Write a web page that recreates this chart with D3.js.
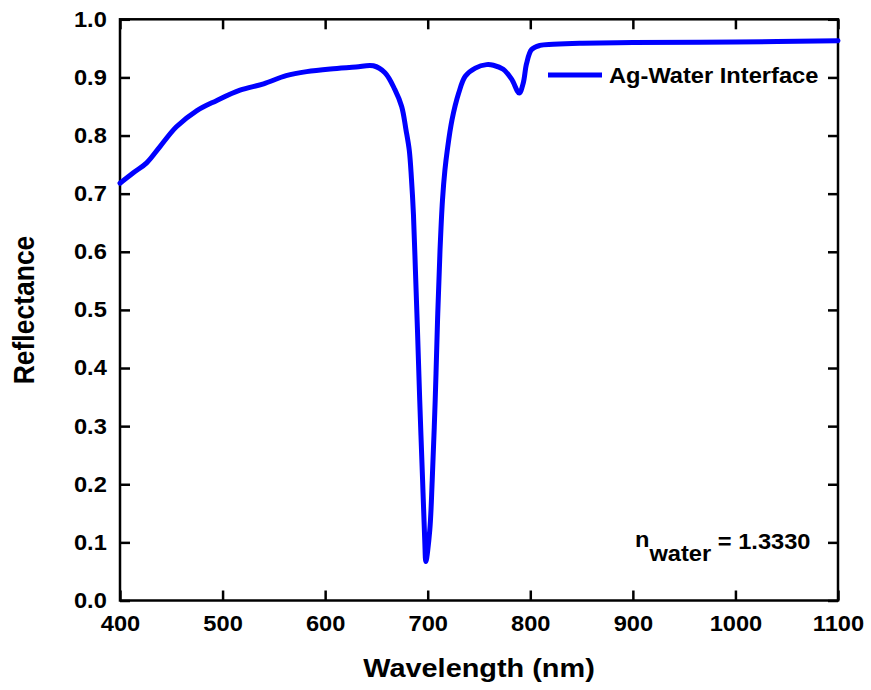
<!DOCTYPE html>
<html>
<head>
<meta charset="utf-8">
<script src="https://cdn.jsdelivr.net/npm/d3@7"></script>
<style>
  html, body { margin: 0; padding: 0; background: #fff; }
  svg { display: block; }
  text { font-family: "Liberation Sans", Arial, sans-serif; font-weight: bold; fill: #000; }
</style>
</head>
<body>
<svg id="chart" width="871" height="690"></svg>
<script>
// Reflectance spectrum of a silver / water interface
const wavelength = [400, 413, 426, 439, 455, 475, 494, 517, 540, 562, 582, 608, 630, 647,
  658.3, 668, 674.6, 678.8, 682.0, 684.1, 686.1, 688.0, 690.0, 692.2, 695.0, 697.1, 698.2,
  702.0, 704.4, 707.3, 709.6, 712.0, 714.4, 716.8, 719.1, 723.7, 730.2, 736.6, 746.4,
  757.4, 764, 773.6, 781.8, 789.2, 793.1, 796.4, 801.3, 809.4, 822.3, 848, 900, 1000, 1100];
const reflectance = [0.718, 0.736, 0.753, 0.781, 0.815, 0.843, 0.860, 0.878, 0.889, 0.903,
  0.910, 0.915, 0.918, 0.920, 0.908, 0.879, 0.850, 0.810, 0.775, 0.727, 0.664, 0.569,
  0.466, 0.345, 0.207, 0.104, 0.067, 0.121, 0.207, 0.345, 0.483, 0.603, 0.689, 0.741,
  0.775, 0.827, 0.873, 0.902, 0.916, 0.922, 0.921, 0.914, 0.897, 0.873, 0.890, 0.924,
  0.948, 0.955, 0.957, 0.959, 0.960, 0.961, 0.963];
const xTicks = [400, 500, 600, 700, 800, 900, 1000, 1100];
const yTicks = [0.0, 0.1, 0.2, 0.3, 0.4, 0.5, 0.6, 0.7, 0.8, 0.9, 1.0];
const seriesName = "Ag-Water Interface";

const svg = d3.select("#chart");
const plot = { left: 120, right: 838, top: 19.3, bottom: 600.5 };
const stretch = 1.1;   // glyphs are drawn slightly wide
const tickFont = 21.5;

const x = d3.scaleLinear().domain([400, 1100]).range([plot.left, plot.right]);
const y = d3.scaleLinear().domain([0, 1]).range([plot.bottom, plot.top]);

function styleAxis(g) {
  g.select(".domain").remove();
  g.selectAll(".tick line").attr("stroke", "#000").attr("stroke-width", 2.5);
}

// bottom axis with labels
const gB = svg.append("g").attr("transform", `translate(0,${plot.bottom})`)
  .call(d3.axisBottom(x).tickValues(xTicks).tickSize(-10).tickPadding(15).tickFormat(d3.format("d")));
styleAxis(gB);
gB.selectAll(".tick text").attr("font-size", tickFont).attr("font-family", null)
  .attr("transform", `scale(${stretch},1)`);

// top axis, ticks only
const gT = svg.append("g").attr("transform", `translate(0,${plot.top})`)
  .call(d3.axisTop(x).tickValues(xTicks).tickSize(-10).tickFormat(""));
styleAxis(gT);

// left axis with labels
const gL = svg.append("g").attr("transform", `translate(${plot.left},0)`)
  .call(d3.axisLeft(y).tickValues(yTicks).tickSize(-10).tickPadding(12).tickFormat(d3.format(".1f")));
styleAxis(gL);
gL.selectAll(".tick text").attr("font-size", tickFont).attr("font-family", null)
  .attr("transform", `scale(${stretch},1)`);

// right axis, ticks only
const gR = svg.append("g").attr("transform", `translate(${plot.right},0)`)
  .call(d3.axisRight(y).tickValues(yTicks).tickSize(-10).tickFormat(""));
styleAxis(gR);

// frame
svg.append("rect")
  .attr("x", plot.left).attr("y", plot.top)
  .attr("width", plot.right - plot.left).attr("height", plot.bottom - plot.top)
  .attr("fill", "none").attr("stroke", "#000").attr("stroke-width", 2.5);

// spectrum
const pts = wavelength.map((w, i) => [w, reflectance[i]]);
const line = d3.line().x(d => x(d[0])).y(d => y(d[1])).curve(d3.curveCatmullRom.alpha(0.5));
svg.append("path").datum(pts)
  .attr("d", line)
  .attr("fill", "none").attr("stroke", "#0000ff").attr("stroke-width", 5)
  .attr("stroke-linejoin", "round").attr("stroke-linecap", "round");

// legend
svg.append("line").attr("x1", 548).attr("x2", 602).attr("y1", 75).attr("y2", 75)
  .attr("stroke", "#0000ff").attr("stroke-width", 5);
svg.append("text").attr("transform", `translate(609,83) scale(${stretch},1)`)
  .attr("font-size", 21.5).text(seriesName);

// refractive index note
const note = svg.append("text").attr("transform", `translate(635,547) scale(${stretch},1)`)
  .attr("font-size", 21.5);
note.append("tspan").attr("x", 0).attr("y", 0).text("n");
note.append("tspan").attr("y", 14).text("water");
note.append("tspan").attr("y", 2).text(" = 1.3330");

// axis titles
svg.append("text").attr("transform", `translate(479,677) scale(1.09,1)`)
  .attr("text-anchor", "middle").attr("font-size", 26.5).text("Wavelength (nm)");
svg.append("text").attr("transform", `translate(34,310) rotate(-90) scale(1,1.1)`)
  .attr("text-anchor", "middle").attr("font-size", 26.5).text("Reflectance");
</script>
</body>
</html>
